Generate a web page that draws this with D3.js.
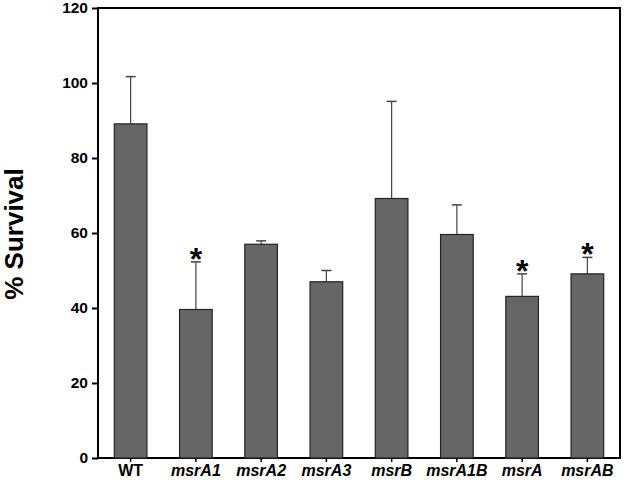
<!DOCTYPE html>
<html><head><meta charset="utf-8">
<script src="https://cdn.jsdelivr.net/npm/d3@7"></script>
<style>body{margin:0;background:#fff}svg{display:block}</style>
</head><body>
<script>
const categories = ["WT","msrA1","msrA2","msrA3","msrB","msrA1B","msrA","msrAB"];
const italicLabel = [false,true,true,true,true,true,true,true];
const values = [89.1,39.6,57.0,47.0,69.2,59.6,43.1,49.1];
const errors = [12.6,12.7,0.9,3.0,25.9,7.9,6.0,4.4];
const significant = [false,true,false,false,false,false,true,true];
const yTicks = [0,20,40,60,80,100,120];
const yTitle = "% Survival";

const W=625,H=483;
const m={l:98,r:5,t:8,b:25};
const svg=d3.select("body").append("svg").attr("width",W).attr("height",H);
const x=d3.scaleBand().domain(categories).range([m.l,W-m.r]).padding(0);
const y=d3.scaleLinear().domain([0,120]).range([H-m.b,m.t]);
const bw=x.bandwidth()*0.5;
const FONT="Liberation Sans, Arial, sans-serif";

// frame
svg.append("rect").attr("x",m.l).attr("y",m.t).attr("width",W-m.r-m.l).attr("height",H-m.b-m.t)
  .attr("fill","none").attr("stroke","#000").attr("stroke-width",2);

// error bars
const g=svg.append("g");
categories.forEach((c,i)=>{
  const cx=x(c)+x.bandwidth()/2;
  g.append("line").attr("x1",cx).attr("x2",cx).attr("y1",y(values[i])).attr("y2",y(values[i]+errors[i]))
    .attr("stroke","#444").attr("stroke-width",1.2);
  g.append("line").attr("x1",cx-5).attr("x2",cx+5).attr("y1",y(values[i]+errors[i])).attr("y2",y(values[i]+errors[i]))
    .attr("stroke","#444").attr("stroke-width",1.5);
});
// bars
g.selectAll("rect.bar").data(categories).join("rect").attr("class","bar")
  .attr("x",c=>x(c)+x.bandwidth()/2-bw/2).attr("width",bw)
  .attr("y",(c,i)=>y(values[i])).attr("height",(c,i)=>y(0)-y(values[i]))
  .attr("fill","#666").attr("stroke","#222").attr("stroke-width",1.2);
// asterisks
categories.forEach((c,i)=>{
  if(!significant[i])return;
  svg.append("text").attr("x",x(c)+x.bandwidth()/2).attr("y",y(values[i]+errors[i])+8)
    .attr("text-anchor","middle").attr("font-family",FONT)
    .attr("font-weight","bold").attr("font-size",32).text("*");
});

// axes
const ya=svg.append("g").attr("transform",`translate(${m.l},0)`)
  .call(d3.axisLeft(y).tickValues(yTicks).tickSize(6).tickPadding(4));
ya.select(".domain").remove();
ya.selectAll(".tick line").attr("stroke","#000").attr("stroke-width",2);
ya.selectAll("text").attr("font-family",FONT).attr("font-weight","bold")
  .attr("font-size",15.5).attr("fill","#000");

const xa=svg.append("g").attr("transform",`translate(0,${H-m.b})`)
  .call(d3.axisBottom(x).tickSize(4).tickPadding(3));
xa.select(".domain").remove();
xa.selectAll(".tick line").attr("stroke","#000").attr("stroke-width",1.5);
xa.selectAll("text").attr("font-family",FONT).attr("font-weight","bold")
  .attr("font-size",16).attr("fill","#000")
  .attr("font-style",(d,i)=>italicLabel[i]?"italic":"normal");

svg.append("text").attr("transform",`translate(23,234) rotate(-90)`).attr("text-anchor","middle")
  .attr("font-family",FONT).attr("font-weight","bold").attr("font-size",26)
  .text(yTitle);
</script>
</body></html>
